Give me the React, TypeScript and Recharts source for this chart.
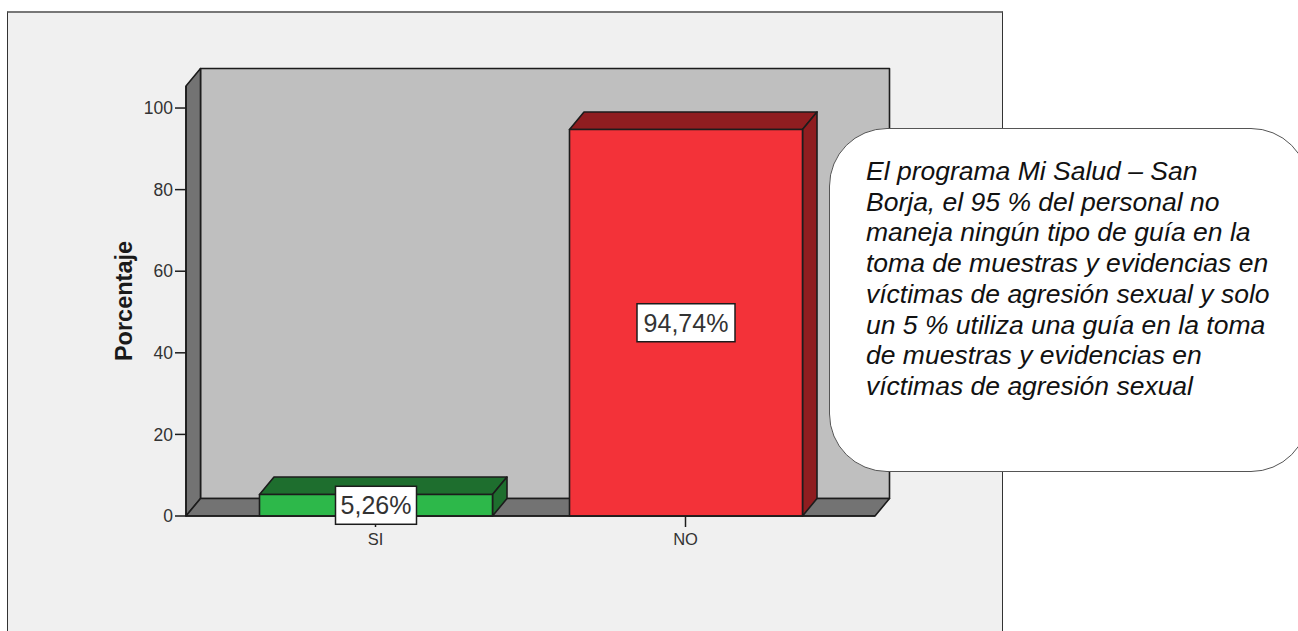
import { BarChart, Bar, XAxis, YAxis, ReferenceArea, LabelList, Label } from 'recharts';

const categories = ['SI', 'NO'];
const percentages = [5.26, 94.74];
const frontColors = ['#2db84a', '#f33239'];
const shadeColors = ['#1e6e2e', '#8f1d20'];
const yTicks = [0, 20, 40, 60, 80, 100];
const yMax = 105.4;
const noteLines = [
  'El programa Mi Salud – San',
  'Borja, el 95 % del personal no',
  'maneja ningún tipo de guía en la',
  'toma de muestras y evidencias en',
  'víctimas de agresión sexual y solo',
  'un 5 % utiliza una guía en la toma',
  'de muestras y evidencias en',
  'víctimas de agresión sexual',
];

const data = categories.map((name, i) => ({ name, value: percentages[i] }));

const FONT = '"Liberation Sans", Arial, sans-serif';
const LINE = '#1c1c1c';
const AXIS_PAD = 34.5;
const DEPTH_X = 14.5;
const DEPTH_Y = 17.5;

const pts = (list: number[][]) => list.map((p) => p.join(',')).join(' ');

// back wall, left wall and floor of the 3D box; the area's x range stops at the
// axis padding, so it is widened back out to the full plot
function Walls({ x: areaX, y, width: areaWidth, height }: any) {
  const x = areaX - AXIS_PAD;
  const width = areaWidth + AXIS_PAD * 2;
  const r = x + width;
  const b = y + height;
  const dx = DEPTH_X;
  const dy = DEPTH_Y;
  return (
    <g stroke={LINE} strokeWidth={1.6} strokeLinejoin="round">
      <rect x={x + dx} y={y - dy} width={width} height={height} fill="#bfbfbf" />
      <polygon points={pts([[x, b], [x, y], [x + dx, y - dy], [x + dx, b - dy]])} fill="#737373" />
      <polygon points={pts([[x, b], [r, b], [r + dx, b - dy], [x + dx, b - dy]])} fill="#737373" />
    </g>
  );
}

function Bar3D({ x, y, width, height, index }: any) {
  const r = x + width;
  const b = y + height;
  const dx = DEPTH_X;
  const dy = DEPTH_Y;
  return (
    <g stroke={LINE} strokeWidth={1.6} strokeLinejoin="round">
      <polygon points={pts([[x, y], [r, y], [r + dx, y - dy], [x + dx, y - dy]])} fill={shadeColors[index]} />
      <polygon points={pts([[r, y], [r + dx, y - dy], [r + dx, b - dy], [r, b]])} fill={shadeColors[index]} />
      <rect x={x} y={y} width={width} height={height} fill={frontColors[index]} />
    </g>
  );
}

function ValueTag({ x, y, width, height, value }: any) {
  const text = `${String(value).replace('.', ',')}%`;
  const w = text.length * 17 - 4;
  const h = 38;
  const cx = x + width / 2;
  const cy = y + height / 2;
  return (
    <g>
      <rect x={cx - w / 2} y={cy - h / 2} width={w} height={h} fill="#fff" stroke={LINE} strokeWidth={1.5} />
      <text x={cx} y={cy + 9} textAnchor="middle" fontFamily={FONT} fontSize={25} fill="#333">
        {text}
      </text>
    </g>
  );
}

export default function App() {
  return (
    <div style={{ position: 'fixed', left: 0, top: 0, width: 1298, height: 631, overflow: 'hidden', background: '#fff' }}>
      <div
        style={{
          position: 'absolute',
          left: 7,
          top: 11,
          width: 994,
          height: 640,
          background: '#f0f0f0',
          border: '1.5px solid #333',
          borderTop: '2px solid #777',
          boxSizing: 'content-box',
        }}
      />
      <div style={{ position: 'absolute', left: 0, top: 0 }}>
        <BarChart
          width={1298}
          height={631}
          data={data}
          margin={{ top: 86, right: 423, bottom: 85, left: 0 }}
          barSize={233}
        >
          <ReferenceArea y1={0} y2={yMax} shape={<Walls />} />
          <XAxis
            dataKey="name"
            height={30}
            padding={{ left: AXIS_PAD, right: AXIS_PAD }}
            tickSize={11}
            tickMargin={6}
            tick={{ fontFamily: FONT, fontSize: 16.5, fill: '#333' }}
            tickLine={{ stroke: LINE, strokeWidth: 1.5 }}
            axisLine={{ stroke: LINE, strokeWidth: 1.6 }}
          />
          <YAxis
            domain={[0, yMax]}
            ticks={yTicks}
            width={186}
            tickSize={11}
            tickMargin={2}
            tick={{ fontFamily: FONT, fontSize: 17.5, fill: '#333' }}
            tickLine={{ stroke: LINE, strokeWidth: 1.5 }}
            axisLine={{ stroke: LINE, strokeWidth: 1.6 }}
          >
            <Label
              value="Porcentaje"
              angle={-90}
              position="center"
              dx={31}
              style={{ fontFamily: FONT, fontSize: 23.5, fontWeight: 700, fill: '#1a1a1a', textAnchor: 'middle' }}
            />
          </YAxis>
          <Bar dataKey="value" shape={<Bar3D />} isAnimationActive={false}>
            <LabelList dataKey="value" content={<ValueTag />} />
          </Bar>
        </BarChart>
      </div>
      <div
        style={{
          position: 'absolute',
          left: 829,
          top: 128,
          width: 480,
          height: 344,
          boxSizing: 'border-box',
          background: '#fff',
          border: '1.5px solid #555',
          borderRadius: 58,
          padding: '27px 0 0 36px',
          fontFamily: FONT,
          fontStyle: 'italic',
          fontSize: 26.5,
          lineHeight: '30.7px',
          color: '#111',
          whiteSpace: 'nowrap',
        }}
      >
        {noteLines.map((line) => (
          <div key={line}>{line}</div>
        ))}
      </div>
    </div>
  );
}
